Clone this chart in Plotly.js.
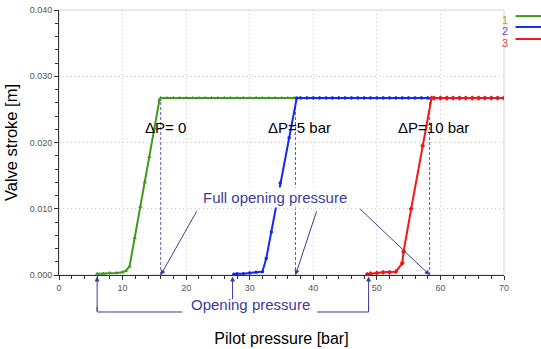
<!DOCTYPE html>
<html>
<head>
<meta charset="utf-8">
<script src="https://cdn.plot.ly/plotly-3.0.1.min.js"></script>
<style>html,body{margin:0;padding:0;background:#fff;}#chart{width:541px;height:349px;}</style>
</head>
<body>
<div id="chart"></div>
<script>
// ---- data ----
const seriesNames = ["1", "2", "3"];
const greenX = [6,7,8,9,10,10.5,11.1,11.9,12.8,13.5,14.2,15,15.8,16,17,18,19,20,21,22,23,24,25,26,27,28,29,30,31,32,33,34,35,36,37,38,39,40,41,42,43,44,45,46,47,48,49,50,51,52,53,54,55,56,57,58,59,60,61,62,63,64,65,66,67,68,69,70];
const greenY = [0.0002,0.0002,0.0003,0.0003,0.0004,0.0006,0.0013,0.0056,0.0103,0.0140,0.0178,0.0221,0.0264,0.0267,0.0267,0.0267,0.0267,0.0267,0.0267,0.0267,0.0267,0.0267,0.0267,0.0267,0.0267,0.0267,0.0267,0.0267,0.0267,0.0267,0.0267,0.0267,0.0267,0.0267,0.0267,0.0267,0.0267,0.0267,0.0267,0.0267,0.0267,0.0267,0.0267,0.0267,0.0267,0.0267,0.0267,0.0267,0.0267,0.0267,0.0267,0.0267,0.0267,0.0267,0.0267,0.0267,0.0267,0.0267,0.0267,0.0267,0.0267,0.0267,0.0267,0.0267,0.0267,0.0267,0.0267,0.0267];
const blueX = [27.5,28,29,30,31,32,32.6,33.4,34.8,36.2,37.4,38,39,40,41,42,43,44,45,46,47,48,49,50,51,52,53,54,55,56,57,58,59,60,61,62,63,64,65,66,67,68,69,70];
const blueY = [0.0001,0.0002,0.0002,0.0003,0.0004,0.0005,0.0025,0.0065,0.0139,0.0207,0.0267,0.0267,0.0267,0.0267,0.0267,0.0267,0.0267,0.0267,0.0267,0.0267,0.0267,0.0267,0.0267,0.0267,0.0267,0.0267,0.0267,0.0267,0.0267,0.0267,0.0267,0.0267,0.0267,0.0267,0.0267,0.0267,0.0267,0.0267,0.0267,0.0267,0.0267,0.0267,0.0267,0.0267];
const redX = [48.5,49,50,51,52,53,54,54.2,55.4,57.2,58.6,59,60,61,62,63,64,65,66,67,68,69,70];
const redY = [0.0001,0.0002,0.0003,0.0004,0.0004,0.0005,0.0018,0.0035,0.0100,0.0195,0.0267,0.0267,0.0267,0.0267,0.0267,0.0267,0.0267,0.0267,0.0267,0.0267,0.0267,0.0267,0.0267];
const plateau = 0.0267;
const fullOpening = [16, 37.2, 58.3];
const openingP = [6, 27.3, 48.7];
const dpLabels = ["ΔP= 0", "ΔP=5 bar", "ΔP=10 bar"];
const dpLabelX = [16.8, 37.8, 58.9];
const xTitle = "Pilot pressure [bar]";
const yTitle = "Valve stroke [m]";

// ---- styles ----
const colors = ["#3c9a1e", "#1428f0", "#f01818"];
const legendTextColors = ["#a0b040", "#5050d0", "#e04848"];
const noteColor = "#3c3c9a";
const font = "Arial, 'Liberation Sans', sans-serif";

const traces = [
  {x: greenX, y: greenY, mode: "lines+markers", name: seriesNames[0],
   line: {color: colors[0], width: 2}, marker: {symbol: "triangle-up", size: 4, color: colors[0]}},
  {x: blueX, y: blueY, mode: "lines+markers", name: seriesNames[1],
   line: {color: colors[1], width: 2}, marker: {symbol: "circle", size: 3.5, color: colors[1]}},
  {x: redX, y: redY, mode: "lines+markers", name: seriesNames[2],
   line: {color: colors[2], width: 2}, marker: {symbol: "diamond", size: 4, color: colors[2]}}
];

const shapes = [
  {type: "rect", xref: "paper", yref: "paper", x0: 0, x1: 1, y0: 0, y1: 1,
   line: {color: "#d4d4d4", width: 1}, layer: "below"}
];
fullOpening.forEach(v => shapes.push({type: "line", xref: "x", yref: "y", x0: v, x1: v, y0: 0, y1: plateau,
  line: {color: "#5a5ab8", width: 1, dash: "3px,2px"}, layer: "below"}));
// bracket for opening pressure
shapes.push({type: "path", xref: "x", yref: "paper",
  path: `M ${openingP[0]} -0.12 L ${openingP[0]} -0.1396 L 19.4 -0.1396`, line: {color: noteColor, width: 1}});
shapes.push({type: "path", xref: "x", yref: "paper",
  path: `M 40.6 -0.1396 L ${openingP[2]} -0.1396 L ${openingP[2]} -0.12`, line: {color: noteColor, width: 1}});
// legend lines
const legY = [0.977, 0.936, 0.8906];
const legTY = [0.992, 0.95, 0.905];
legY.forEach((yy, i) => shapes.push({type: "line", xref: "paper", yref: "paper",
  x0: 1.0258, x1: 1.09, y0: yy, y1: yy, line: {color: colors[i], width: 2}}));

const annotations = [];
dpLabels.forEach((t, i) => annotations.push({x: dpLabelX[i], y: 0.0223, xref: "x", yref: "y", text: t,
  showarrow: false, font: {family: font, size: 15, color: "#000"}}));
annotations.push({x: 34.0, y: 0.01167, xref: "x", yref: "y", text: "Full opening pressure", showarrow: false,
  bgcolor: "#fff", font: {family: font, size: 15, color: noteColor}});
const tails = [[21.8, 0.00985], [40.6, 0.00985], [47.1, 0.0102]];
fullOpening.forEach((v, i) => annotations.push({x: v, y: 0, xref: "x", yref: "y", text: "",
  showarrow: true, axref: "x", ayref: "y", ax: tails[i][0], ay: tails[i][1],
  arrowhead: 2, arrowsize: 1, arrowwidth: 1, arrowcolor: noteColor}));
const arrowLen = [36, 24, 36];
openingP.forEach((v, i) => annotations.push({x: v, y: -0.006, xref: "x", yref: "paper", text: "",
  showarrow: true, ax: 0, ay: arrowLen[i], arrowhead: 2, arrowsize: 1, arrowwidth: 1, arrowcolor: noteColor}));
annotations.push({x: 30.1, y: -0.151, xref: "x", yref: "paper", text: "Opening pressure", showarrow: false,
  font: {family: font, size: 15, color: noteColor}});
seriesNames.forEach((n, i) => annotations.push({x: 1.0124, y: legTY[i], xref: "paper", yref: "paper", text: n,
  showarrow: false, font: {family: font, size: 11, color: legendTextColors[i]}}));

const layout = {
  width: 541, height: 349,
  margin: {l: 59, r: 37, t: 10, b: 74, pad: 0},
  paper_bgcolor: "#fff", plot_bgcolor: "#fff",
  showlegend: false,
  font: {family: font, color: "#555"},
  xaxis: {range: [0, 70], dtick: 10, tick0: 0, showgrid: true, gridcolor: "#c8c8c8", griddash: "1px,3px", gridwidth: 1,
    zeroline: false, showline: true, linecolor: "#333", linewidth: 1, ticks: "outside", ticklen: 4, tickcolor: "#333",
    minor: {dtick: 2, ticks: "outside", ticklen: 3, tickcolor: "#333", showgrid: false},
    tickfont: {family: font, size: 9, color: "#555"},
    title: {text: xTitle, font: {family: font, size: 16, color: "#000"}, standoff: 41}, automargin: false},
  yaxis: {range: [0, 0.04], dtick: 0.01, tick0: 0, tickformat: ".3f", showgrid: true, gridcolor: "#c8c8c8", griddash: "1px,3px",
    zeroline: false, showline: true, linecolor: "#333", linewidth: 1, ticks: "outside", ticklen: 4, tickcolor: "#333",
    minor: {dtick: 0.002, ticks: "outside", ticklen: 3, tickcolor: "#333", showgrid: false},
    tickfont: {family: font, size: 9, color: "#555"},
    title: {text: yTitle, font: {family: font, size: 16.5, color: "#000"}, standoff: 7}, automargin: false},
  shapes: shapes,
  annotations: annotations
};

Plotly.newPlot("chart", traces, layout, {displayModeBar: false, staticPlot: true});
</script>
</body>
</html>
